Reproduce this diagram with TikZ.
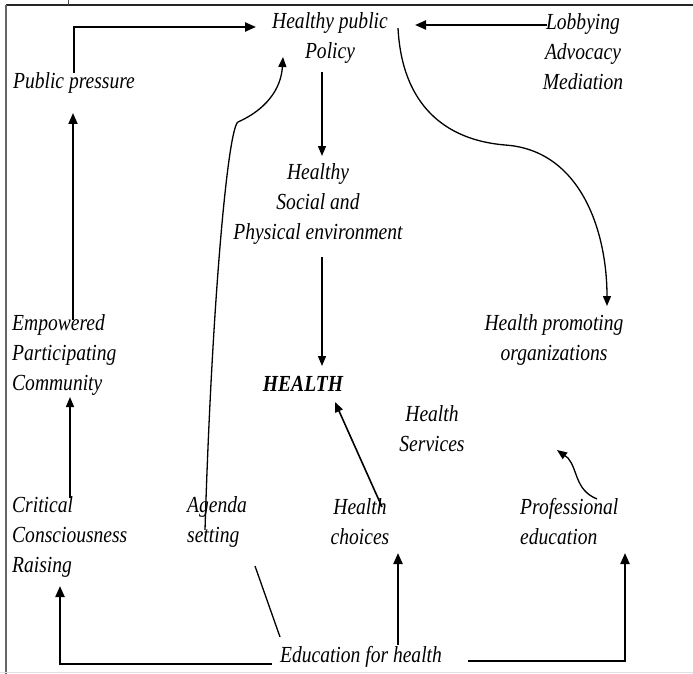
\documentclass[tikz,border=0pt]{standalone}
\usepackage{fontspec}
\newfontfamily\lblfont[FakeStretch=0.85]{Liberation Serif}
\usetikzlibrary{arrows.meta,calc}
\begin{document}
\begin{tikzpicture}[x=1pt,y=-1pt,
  lbl/.style={inner sep=0pt,font=\lblfont\fontsize{23}{30}\selectfont\itshape},
  thin/.style={line width=1.3pt,-{Triangle[length=10pt,width=8pt]}},
  thick/.style={line width=2.2pt,-{Triangle[length=11pt,width=9pt]}},
  plain/.style={line width=1.3pt}]
\useasboundingbox (0,0) rectangle (693,674);
% page frame
\draw[line width=2.5pt,black!85] (6,5) -- (693,5);
\draw[line width=1.6pt,black!60] (6,5) -- (6,674);
\draw[line width=1pt,black!12] (0,672) -- (693,672);
\draw[line width=1pt,black!70] (68,0) -- (68,5);

% labels
\node[lbl,align=center] (hpp) at (330,38) {Healthy public\\Policy};
\node[lbl,align=center] (lob) at (583,52) {Lobbying\\Advocacy\\Mediation};
\node[lbl] (pub) at (74,83) {Public pressure};
\node[lbl,align=center] (env) at (318,204) {Healthy\\Social and\\Physical environment};
\node[lbl,align=left,anchor=west] (emp) at (12,355) {Empowered\\Participating\\Community};
\node[lbl,align=center] (hpo) at (554,340) {Health promoting\\organizations};
\node[lbl,font=\lblfont\fontsize{23}{30}\selectfont\bfseries\itshape] (health) at (303,384) {HEALTH};
\node[lbl,align=center] (hs) at (432,429) {Health\\Services};
\node[lbl,align=left,anchor=west] (crit) at (12,537) {Critical\\Consciousness\\Raising};
\node[lbl,align=left,anchor=west] (agenda) at (187,522) {Agenda\\setting};
\node[lbl,align=center] (choices) at (360,522) {Health\\choices};
\node[lbl,align=left,anchor=west] (prof) at (520,522) {Professional\\education};
\node[lbl] (edu) at (361,657) {Education for health};

% connector end points
\coordinate (pubT) at (74,73);
\coordinate (hppL) at (256,27);
\coordinate (lobL) at (547,25);
\coordinate (hppR) at (415,25);
\coordinate (hppB) at (322,72);
\coordinate (envT) at (322,156);
\coordinate (envB) at (322,257);
\coordinate (healthT) at (322,366);
\coordinate (hppC) at (398,28);
\coordinate (hpoT) at (607,306);
\coordinate (agB) at (205,530);
\coordinate (hppA) at (283,57);
\coordinate (critT) at (70,498);
\coordinate (empB) at (70,397);
\coordinate (empT) at (73,320);
\coordinate (pubB) at (73,113);
\coordinate (chT) at (382,507);
\coordinate (healthB) at (335,402);
\coordinate (profT) at (597,499);
\coordinate (hpoB) at (557,450);
\coordinate (eduL) at (272,664);
\coordinate (critB) at (60,586);
\coordinate (eduA) at (280,637);
\coordinate (agS) at (255,566);
\coordinate (eduT) at (398,645);
\coordinate (chB) at (398,553);
\coordinate (eduR) at (468,661);
\coordinate (profB) at (625,553);

% connectors
\draw[thick] (pubT) |- (hppL);
\draw[thick] (lobL) -- (hppR);
\draw[thin] (hppB) -- (envT);
\draw[thin] (envB) -- (healthT);
\draw[thin] (hppC) .. controls (402,105) and (445,140) .. (505,145)
  .. controls (580,150) and (607,230) .. (hpoT);
\draw[thin] (agB) .. controls (212,300) and (228,128) .. (238,122)
  .. controls (265,110) and (281,90) .. (hppA);
\draw[thin] (critT) -- (empB);
\draw[thick,line width=1.8pt] (empT) -- (pubB);
\draw[thin,line width=1.6pt] (chT) -- (healthB);
\draw[thin] (profT) .. controls (575,490) and (578,470) .. (568,458)
  -- (hpoB);
\draw[thick] (eduL) -| (critB);
\draw[plain] (eduA) -- (agS);
\draw[thick] (eduT) -- (chB);
\draw[thick] (eduR) -| (profB);
\end{tikzpicture}
\end{document}
